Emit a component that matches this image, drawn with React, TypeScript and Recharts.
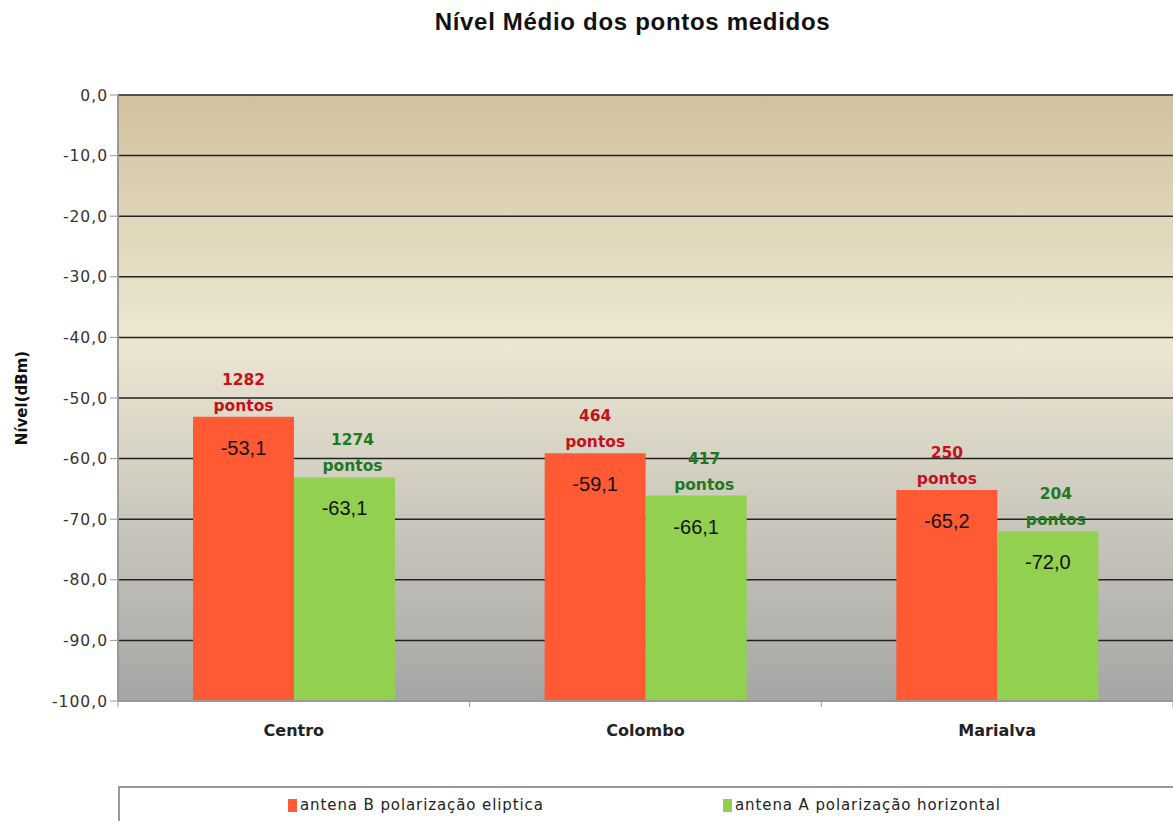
import { BarChart, Bar, XAxis, YAxis, CartesianGrid, LabelList, Legend } from "recharts";

/* ── Data ─────────────────────────────── */
const CATEGORIES = ["Centro", "Colombo", "Marialva"];
const ANTENA_B = [-53.1, -59.1, -65.2];
const ANTENA_A = [-63.1, -66.1, -72.0];
const PONTOS_B = [1282, 464, 250];
const PONTOS_A = [1274, 417, 204];
const Y_TICKS = [0, -10, -20, -30, -40, -50, -60, -70, -80, -90, -100];

const SERIES = [
  { key: "b", name: "antena B polarização eliptica", color: "#ff5a33", text: "#c4121c", dx: 0 },
  { key: "a", name: "antena A polarização horizontal", color: "#92d050", text: "#1f7a1f", dx: 8 },
];

const data = CATEGORIES.map((name, i) => ({
  name,
  b: ANTENA_B[i],
  a: ANTENA_A[i],
  pb: PONTOS_B[i],
  pa: PONTOS_A[i],
}));

const W = 1173;
const H = 821;
const Y_AXIS_W = 118;
const X_AXIS_H = 30;
const TOP = 95;
const BOTTOM = 120 - X_AXIS_H;
const Y_MIN = -100;
const HALF_BAND = (W - Y_AXIS_W) / CATEGORIES.length / 2;

const fmt = (v: number) => v.toFixed(1).replace(".", ",");

function CategoryTick(props: any) {
  const { x, y, payload, index } = props;
  return (
    <g>
      {index === 0 && <line x1={x - HALF_BAND} y1={y} x2={x - HALF_BAND} y2={y + 6} stroke="#999" />}
      <line x1={x + HALF_BAND} y1={y} x2={x + HALF_BAND} y2={y + 6} stroke="#999" />
      <text
        x={x}
        y={y + 35}
        textAnchor="middle"
        fontFamily="DejaVu Sans"
        fontWeight="bold"
        fontSize={16}
        fill="#222"
      >
        {payload.value}
      </text>
    </g>
  );
}

const makeLabel = (key: string) => (props: any) => {
  const { x, y, width, index } = props;
  const s = SERIES.find((d) => d.key === key)!;
  const row = data[index];
  const value = key === "b" ? row.b : row.a;
  const count = key === "b" ? row.pb : row.pa;
  const cx = x + width / 2;
  return (
    <g>
      <text x={cx} y={y + 38} textAnchor="middle" fontFamily="Liberation Sans" fontSize={20} fill="#111">
        {fmt(value)}
      </text>
      <text
        x={cx + s.dx}
        y={y - 32}
        textAnchor="middle"
        fontFamily="DejaVu Sans"
        fontWeight="bold"
        fontSize={15.5}
        fill={s.text}
      >
        {count}
      </text>
      <text
        x={cx + s.dx}
        y={y - 6}
        textAnchor="middle"
        fontFamily="DejaVu Sans"
        fontWeight="bold"
        fontSize={15.5}
        fill={s.text}
      >
        pontos
      </text>
    </g>
  );
};

function LegendBox() {
  return (
    <div
      style={{
        border: "2px solid #999",
        borderRight: "none",
        height: 60,
        position: "relative",
        fontFamily: "DejaVu Sans",
        fontSize: 15,
        letterSpacing: 0.9,
        color: "#222",
        background: "#fff",
      }}
    >
      {SERIES.map((s, i) => (
        <div
          key={s.key}
          style={{ position: "absolute", left: i === 0 ? 168 : 603, top: 8, display: "flex", alignItems: "center" }}
        >
          <span style={{ width: 9, height: 13, background: s.color, marginRight: 3 }} />
          <span>{s.name}</span>
        </div>
      ))}
    </div>
  );
}

export default function App() {
  return (
    <div style={{ position: "absolute", left: 0, top: 0, width: W, height: H, background: "#fff", overflow: "hidden" }}>
      <div
        style={{
          position: "absolute",
          top: 8,
          left: 0,
          width: 1265,
          textAlign: "center",
          fontFamily: "Liberation Sans",
          fontWeight: "bold",
          fontSize: 24,
          letterSpacing: 0.7,
          color: "#111",
        }}
      >
        Nível Médio dos pontos medidos
      </div>
      <BarChart
        width={W}
        height={H}
        data={data}
        margin={{ top: TOP, right: 0, bottom: BOTTOM, left: 0 }}
        barGap={0}
        barSize={101}
      >
        <defs>
          <linearGradient id="bg" x1="0" y1="0" x2="0" y2="1">
            <stop offset="0" stopColor="#d1c29e" />
            <stop offset="0.4" stopColor="#ede7d2" />
            <stop offset="0.55" stopColor="#dcd8c8" />
            <stop offset="1" stopColor="#a5a5a5" />
          </linearGradient>
        </defs>
        <CartesianGrid vertical={false} stroke="#222" strokeWidth={1.5} fill="url(#bg)" fillOpacity={1} />
        <XAxis
          dataKey="name"
          height={X_AXIS_H}
          tickLine={false}
          tickSize={0}
          tickMargin={0}
          axisLine={{ stroke: "#999", strokeWidth: 2 }}
          tick={<CategoryTick />}
          interval={0}
        />
        <YAxis
          width={Y_AXIS_W}
          domain={[Y_MIN, 0]}
          ticks={Y_TICKS}
          interval={0}
          tickFormatter={fmt}
          tick={{ fontFamily: "DejaVu Sans", fontSize: 15.5, fill: "#333", letterSpacing: 1 }}
          tickSize={8}
          tickLine={{ stroke: "#999" }}
          axisLine={{ stroke: "#999", strokeWidth: 2 }}
          label={{
            value: "Nível(dBm)",
            angle: -90,
            position: "insideLeft",
            offset: 22,
            style: { fontFamily: "DejaVu Sans", fontWeight: "bold", fontSize: 15, fill: "#111", textAnchor: "middle" },
          }}
        />
        <Legend
          layout="vertical"
          align="center"
          verticalAlign="middle"
          content={<LegendBox />}
          wrapperStyle={{ position: "absolute", left: 118, top: 786, width: 1060, height: 60 }}
        />
        {SERIES.map((s) => (
          <Bar
            key={s.key}
            name={s.name}
            dataKey={(d: any) => [Y_MIN, d[s.key]]}
            fill={s.color}
            isAnimationActive={false}
          >
            <LabelList content={makeLabel(s.key)} />
          </Bar>
        ))}
      </BarChart>
    </div>
  );
}
